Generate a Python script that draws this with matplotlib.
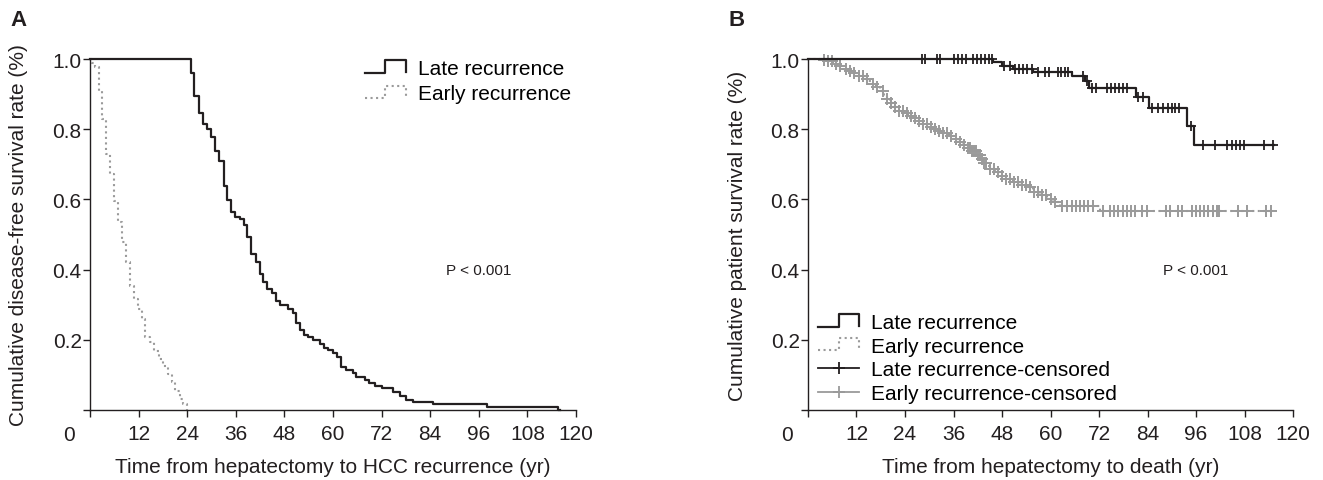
import numpy as np
import matplotlib
matplotlib.use("Agg")
import matplotlib.pyplot as plt
from matplotlib.lines import Line2D
from matplotlib.legend_handler import HandlerBase

plt.rcParams['font.family'] = ['Liberation Sans', 'DejaVu Sans']

INK = '#231f20'
GRAY = '#9a9a9a'

# --- Panel A: disease-free survival (step times in months, survival after step) ---
late_a_t = [0, 24.9, 25.8, 26.9, 28.0, 29.0, 29.9, 30.9, 31.9, 33.0, 33.9, 34.8, 35.8,
            37.0, 38.0, 38.8, 39.8, 41.0, 42.0, 42.8, 43.6, 44.9, 45.9, 46.9, 49.0,
            50.0, 50.9, 51.9, 52.8, 53.9, 55.0, 56.8, 57.9, 58.8, 59.9, 60.9, 62.0,
            63.2, 64.9, 65.8, 67.9, 69.0, 70.4, 72.0, 74.9, 76.5, 78.0, 79.8, 84.8,
            98.0, 115.6]
late_a_s = [1.0, 0.960, 0.894, 0.846, 0.815, 0.800, 0.777, 0.739, 0.708, 0.639, 0.598,
            0.563, 0.551, 0.544, 0.528, 0.494, 0.444, 0.421, 0.387, 0.366, 0.345, 0.332,
            0.311, 0.300, 0.288, 0.276, 0.247, 0.228, 0.214, 0.207, 0.199, 0.188, 0.177,
            0.171, 0.161, 0.152, 0.123, 0.114, 0.104, 0.093, 0.085, 0.076, 0.068, 0.062,
            0.050, 0.041, 0.029, 0.024, 0.017, 0.008, 0.0]

early_a_t = [0, 0.5, 1.2, 2.1, 2.9, 3.9, 4.9, 6.0, 6.8, 7.8, 8.9, 9.9, 10.9, 11.9, 12.8,
             13.7, 14.8, 15.9, 17.0, 18.1, 19.2, 20.2, 21.0, 22.1, 23.0, 23.9]
early_a_s = [1.0, 0.99, 0.976, 0.910, 0.829, 0.729, 0.672, 0.596, 0.535, 0.479, 0.421,
             0.354, 0.316, 0.288, 0.259, 0.207, 0.193, 0.169, 0.145, 0.126, 0.103, 0.079,
             0.055, 0.031, 0.017, 0.0]

# --- Panel B: patient survival ---
late_b_t = [0, 45.8, 47.9, 50.8, 55.7, 65.2, 68.5, 69.6, 81.1, 84.4, 93.8, 95.6]
late_b_s = [1.0, 0.992, 0.981, 0.972, 0.962, 0.951, 0.937, 0.917, 0.891, 0.860, 0.808, 0.756]
late_b_end = 115.3
late_b_cens = [28.1, 28.9, 31.8, 32.7, 36.0, 37.0, 38.0, 39.1, 40.9, 41.7, 42.8, 43.8,
               44.9, 45.5, 48.6, 50.0, 51.2, 52.3, 53.3, 54.3, 55.3, 57.0, 58.6, 59.7,
               61.9, 62.7, 63.6, 64.4, 68.0, 69.0, 70.2, 71.3, 73.9, 74.9, 76.0, 77.0,
               78.0, 78.9, 81.7, 82.8, 85.0, 86.7, 87.9, 89.0, 90.0, 90.8, 91.9, 94.7,
               97.8, 100.7, 103.7, 104.8, 105.9, 106.9, 107.9, 112.8, 115.1]

early_b_t = [0, 3.0, 4.6, 6.3, 7.5, 8.7, 10.0, 11.2, 12.5, 13.7, 14.8, 15.8, 16.8, 17.8,
             18.7, 19.5, 20.3, 21.1, 22.4, 23.6, 24.8, 26.0, 27.3, 28.5, 29.8, 31.0,
             32.3, 33.5, 34.8, 36.0, 37.2, 38.4, 39.5, 40.5, 41.6, 42.6, 43.4, 44.2,
             45.0, 46.2, 47.5, 49.0, 50.8, 52.4, 54.1, 55.7, 57.4, 59.1, 60.7, 62.3, 72.2]
early_b_s = [1.0, 0.996, 0.993, 0.986, 0.979, 0.972, 0.966, 0.959, 0.951, 0.943, 0.936,
             0.929, 0.920, 0.910, 0.898, 0.886, 0.874, 0.862, 0.853, 0.845, 0.838, 0.832,
             0.823, 0.815, 0.807, 0.800, 0.794, 0.788, 0.780, 0.772, 0.764, 0.756, 0.746,
             0.737, 0.726, 0.715, 0.705, 0.695, 0.688, 0.677, 0.667, 0.658, 0.649, 0.641,
             0.634, 0.622, 0.613, 0.601, 0.592, 0.582, 0.568]
early_b_end = 115.3
early_b_cens = [4.0, 5.0, 6.0, 7.0, 8.0, 9.5, 10.5, 11.5, 12.5, 13.5, 14.5, 16.0, 17.0,
                18.5, 19.5, 20.5, 21.5, 22.5, 23.5, 24.5, 25.5, 26.5, 27.5, 28.5, 29.5,
                30.5, 31.5, 32.5, 33.5, 34.5, 35.5, 36.5, 37.5, 38.5, 39.5, 40.0, 40.5,
                41.0, 41.5, 42.0, 42.5, 43.0, 43.5, 44.0, 45.0, 46.0, 47.0, 48.0, 49.0,
                50.0, 51.0, 52.0, 53.0, 54.0, 55.0, 56.0, 57.0, 58.0, 59.0, 60.0, 61.0,
                62.8, 64.0, 65.2, 66.3, 67.3, 68.3, 69.3, 70.6, 73.1, 74.6, 75.7, 76.8,
                77.9, 78.9, 79.9, 80.9, 82.6, 83.8, 88.7, 89.6, 91.6, 92.5, 95.0, 96.0,
                97.0, 98.0, 99.0, 100.1, 101.1, 101.7, 106.4, 108.5, 113.4, 114.6]

x_ticks = list(range(0, 121, 12))
y_ticks = [0, 0.2, 0.4, 0.6, 0.8, 1.0]


class StepHandler(HandlerBase):
    # legend key drawn as a little step, like the original figure
    def create_artists(self, legend, orig_handle, xdescent, ydescent, width,
                       height, fontsize, trans):
        x0, y0 = -xdescent, -ydescent
        xs = [x0, x0 + 0.5 * width, x0 + 0.5 * width, x0 + width, x0 + width]
        ys = [y0 + 0.1 * height, y0 + 0.1 * height, y0 + 0.95 * height,
              y0 + 0.95 * height, y0 + 0.15 * height]
        ln = Line2D(xs, ys, color=orig_handle.get_color(),
                    linestyle=orig_handle.get_linestyle(),
                    linewidth=orig_handle.get_linewidth(), transform=trans)
        return [ln]


def level_at(t, s, x):
    idx = np.searchsorted(t, x, side='right') - 1
    return np.asarray(s)[idx]


def style_axes(ax, xlabel, ylabel):
    ax.set_xlim(0, 120)
    ax.set_ylim(0, 1.0)
    for side in ['top', 'right']:
        ax.spines[side].set_visible(False)
    for side in ['left', 'bottom']:
        ax.spines[side].set_linewidth(1.0)
        ax.spines[side].set_color(INK)
    ax.set_xticks(x_ticks)
    ax.set_xticklabels([''] + [str(v) for v in x_ticks[1:]])
    ax.set_yticks(y_ticks)
    ax.set_yticklabels([''] + ['%.1f' % v for v in y_ticks[1:]])
    ax.tick_params(axis='both', direction='out', length=5, width=1.0, colors=INK,
                   labelsize=15)
    ax.tick_params(axis='y', pad=1)
    ax.tick_params(axis='x', pad=5)
    ax.annotate('0', xy=(0, 0), xytext=(-21, -25), textcoords='offset pixels',
                ha='center', va='center', fontsize=15, color=INK)
    ax.set_xlabel(xlabel, fontsize=15, color=INK)
    ax.set_ylabel(ylabel, fontsize=15, color=INK)
    ax.xaxis.label.set_va('center')
    ax.yaxis.label.set_va('center')
    ax.xaxis.set_label_coords(0.5, -0.16)
    ax.yaxis.set_label_coords(-0.148, 0.5)
    ax.text(96, 0.4, 'P < 0.001', fontsize=11, ha='center', va='center', color=INK)


fig = plt.figure(figsize=(13.23, 4.81), dpi=100)
axA = fig.add_axes([90 / 1323, 70 / 481, 486 / 1323, 351 / 481])
axB = fig.add_axes([808 / 1323, 70 / 481, 485 / 1323, 351 / 481])

# Panel A
la, = axA.step(late_a_t + [116.0], late_a_s + [0.0], where='post', color=INK, lw=1.6,
               clip_on=False, zorder=3)
ea, = axA.step(early_a_t, early_a_s, where='post', color=GRAY, lw=1.5, ls=':',
               clip_on=False, zorder=2)
style_axes(axA, 'Time from hepatectomy to HCC recurrence (yr)',
           'Cumulative disease-free survival rate (%)')
axA.legend([la, ea], ['Late recurrence', 'Early recurrence'],
           handler_map={la: StepHandler(), ea: StepHandler()},
           loc='upper left', bbox_to_anchor=(0.565, 0.999), frameon=False,
           borderpad=0, borderaxespad=0, handlelength=2.0, handletextpad=0.55,
           labelspacing=0.29, fontsize=15)

# Panel B
eb, = axB.step(early_b_t + [early_b_end], early_b_s + [early_b_s[-1]], where='post',
               color=GRAY, lw=1.5, ls=':', clip_on=False, zorder=2)
axB.plot(early_b_cens, level_at(early_b_t, early_b_s, early_b_cens), ls='none',
         marker='+', ms=8, mew=1.4, color=GRAY, clip_on=False, zorder=2)
lb, = axB.step(late_b_t + [late_b_end], late_b_s + [late_b_s[-1]], where='post',
               color=INK, lw=1.6, clip_on=False, zorder=3)
axB.plot(late_b_cens, level_at(late_b_t, late_b_s, late_b_cens), ls='none',
         marker='+', ms=6.5, mew=1.3, color=INK, clip_on=False, zorder=3)
style_axes(axB, 'Time from hepatectomy to death (yr)',
           'Cumulative patient survival rate (%)')
axB.yaxis.set_label_coords(-0.146, 0.5)

lc = Line2D([], [], color=INK, lw=1.3, marker='+', ms=8, mew=1.3)
ec = Line2D([], [], color=GRAY, lw=1.3, marker='+', ms=8, mew=1.3)
axB.legend([lb, eb, lc, ec],
           ['Late recurrence', 'Early recurrence', 'Late recurrence-censored',
            'Early recurrence-censored'],
           handler_map={lb: StepHandler(), eb: StepHandler()},
           loc='upper left', bbox_to_anchor=(0.02, 0.276), frameon=False,
           borderpad=0, borderaxespad=0, handlelength=2.0, handletextpad=0.55,
           labelspacing=0.22, fontsize=15)

fig.text(10 / 1323, 1 - 21 / 481, 'A', fontsize=16, fontweight='bold', ha='left',
         va='center', color=INK)
fig.text(728 / 1323, 1 - 21 / 481, 'B', fontsize=16, fontweight='bold', ha='left',
         va='center', color=INK)

fig.savefig('out.png', dpi=100)
